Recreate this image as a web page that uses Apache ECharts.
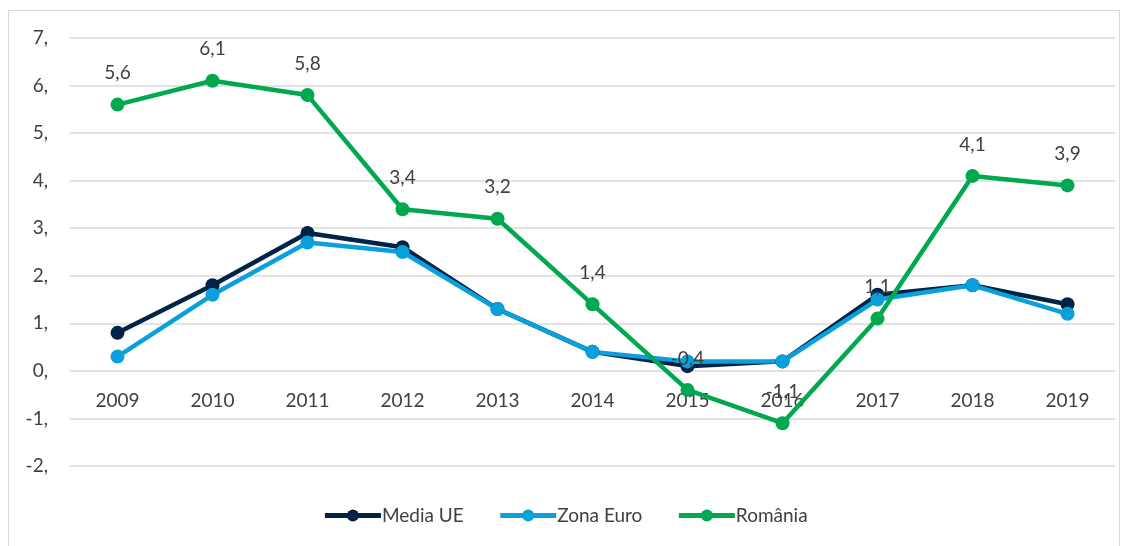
<!DOCTYPE html>
<html>
<head>
<meta charset="utf-8">
<script src="https://cdn.jsdelivr.net/npm/echarts@6/dist/echarts.min.js"></script>
<style>
  body { margin: 0; background: #fff; }
  #wrap { position: relative; width: 1130px; height: 546px; }
  #frame { position: absolute; left: 8px; top: 10px; width: 1112px; height: 540px;
           border: 1px solid #d9d9d9; box-sizing: border-box; }
  #app { position: absolute; left: 0; top: 0; width: 1130px; height: 546px; }
</style>
</head>
<body>
<div id="wrap">
  <div id="frame"></div>
  <div id="app"></div>
</div>
<script>
const years = ['2009', '2010', '2011', '2012', '2013', '2014', '2015', '2016', '2017', '2018', '2019'];
const mediaUE = [0.8, 1.8, 2.9, 2.6, 1.3, 0.4, 0.1, 0.2, 1.6, 1.8, 1.4];
const zonaEuro = [0.3, 1.6, 2.7, 2.5, 1.3, 0.4, 0.2, 0.2, 1.5, 1.8, 1.2];
const romania = [5.6, 6.1, 5.8, 3.4, 3.2, 1.4, -0.4, -1.1, 1.1, 4.1, 3.9];

const font = 'Lato, "Open Sans", sans-serif';
const textColor = '#404040';
const fs = 19;

const lineSeries = (name, data, color, withLabels) => ({
  name,
  type: 'line',
  data,
  symbol: 'circle',
  symbolSize: 14,
  lineStyle: { width: 4.5, color },
  itemStyle: { color },
  label: {
    show: withLabels,
    position: 'top',
    distance: 15,
    color: textColor,
    fontFamily: font,
    fontSize: fs,
    formatter: p => String(p.value).replace('.', ',')
  },
  labelLayout: { hideOverlap: false },
  z: 2
});

// grid: top 38, bottom 80 -> 428px for 9 units; the zero line sits 2 units above the bottom
const gridH = 546 - 38 - 80;
const zeroOffset = -gridH * 2 / 9;

const chart = echarts.init(document.getElementById('app'));
chart.setOption({
  animation: false,
  grid: { left: 70, right: 15, top: 38, bottom: 80 },
  legend: {
    bottom: 16,
    left: 'center',
    itemWidth: 56,
    itemHeight: 15,
    itemGap: 34,
    lineStyle: { width: 5 },
    textStyle: { color: textColor, fontFamily: font, fontSize: fs, padding: [0, 0, 0, -4] },
    data: ['Media UE', 'Zona Euro', 'România']
  },
  xAxis: {
    type: 'category',
    data: years,
    boundaryGap: true,
    offset: zeroOffset,
    axisLine: { show: false },
    axisTick: { show: false },
    axisLabel: { color: textColor, fontFamily: font, fontSize: fs, margin: 20 }
  },
  yAxis: {
    type: 'value',
    min: -2,
    max: 7,
    interval: 1,
    axisLine: { show: false },
    axisTick: { show: false },
    splitLine: { lineStyle: { color: '#d9d9d9', width: 1.5 } },
    axisLabel: { color: textColor, fontFamily: font, fontSize: fs, margin: 22,
                 formatter: v => v + ',' }
  },
  series: [
    lineSeries('Media UE', mediaUE, '#002347', false),
    lineSeries('Zona Euro', zonaEuro, '#0aa0dc', false),
    lineSeries('România', romania, '#00a84f', true)
  ]
});
</script>
</body>
</html>
